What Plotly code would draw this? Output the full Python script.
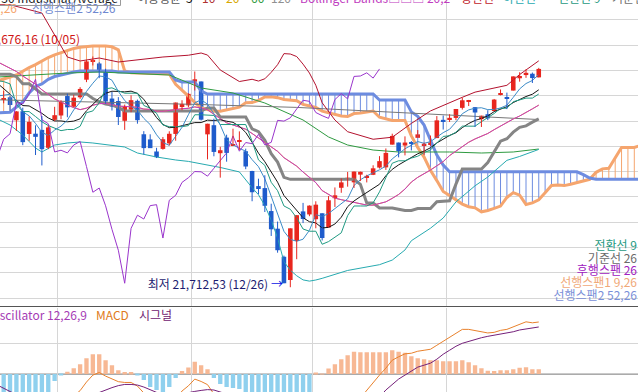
import plotly.graph_objects as go

W, H = 638, 392
FONT = "Noto Sans CJK KR, Noto Sans, sans-serif"

# ---------------- data (Dow Jones 30 Industrial Average, daily) ----------------
dates = ["10/18","10/19","10/22","10/23","10/24","10/25","10/26","10/29","10/30","10/31",
         "11/01","11/02","11/05","11/06","11/07","11/08","11/09","11/12","11/13","11/14","11/15",
         "11/16","11/19","11/20","11/21","11/23","11/26","11/27","11/28","11/29","11/30",
         "12/03","12/04","12/06","12/07","12/10","12/11","12/12","12/13","12/14","12/17","12/18",
         "12/19","12/20","12/21","12/24","12/26","12/27","12/28","12/31",
         "01/02","01/03","01/04","01/07","01/08","01/09","01/10","01/11","01/14","01/15","01/16",
         "01/17","01/18","01/22","01/23","01/24","01/25","01/28","01/29","01/30","01/31",
         "02/01","02/04","02/05","02/06","02/07","02/08","02/11","02/12","02/13","02/14","02/15",
         "02/19","02/20","02/21","02/22"]

opens = [25651,25418,25470,25015,25195,24745,24750,24825,24471,25024,
         25110,25495,25283,25470,25818,26177,26139,25977,25445,25396,25005,
         25226,25400,24739,24637,24398,24449,24558,24745,25278,25310,
         25779,25783,24737,24918,24364,24673,24515,24590,24403,24012,23713,
         23674,23220,22871,22318,21857,22629,23213,23153,
         23058,23176,22894,23474,23680,23844,23788,23940,23891,23937,24080,
         24084,24534,24575,24516,24556,24668,24526,24546,24663,25006,
         25025,25062,25261,25377,25275,25037,25135,25198,25519,25452,25603,
         25846,25910,25936,25864]
highs = [25700,25599,25497,25196,25265,25093,24916,25100,24907,25282,
         25411,25543,25520,25670,26207,26277,26165,26035,25575,25473,25326,
         25510,25425,24800,24738,24471,24685,24798,25366,25412,25550,
         25980,25783,24947,25047,24491,24730,24849,24796,24454,24016,23860,
         23928,23365,23012,22339,22878,23138,23381,23333,
         23413,23176,23518,23687,23864,23994,24002,24000,23938,24125,24306,
         24458,24750,24575,24697,24604,24822,24573,24714,25099,25109,
         25135,25239,25465,25418,25275,25106,25214,25437,25625,25562,25883,
         25965,26024,25959,26052]
lows = [25249,25351,25205,24804,24523,24607,24328,24122,24444,24999,
        25036,25075,25279,25440,25770,26100,25848,25344,25209,24922,24825,
        25175,24948,24341,24467,24268,24434,24519,24611,25214,25273,
        25605,25011,24242,24303,23881,24196,24513,24429,24048,23414,23552,
        23201,22727,22396,21792,21713,22267,22982,23118,
        22879,22638,22894,23301,23581,23702,23677,23813,23786,23931,24061,
        24033,24534,24282,24321,24419,24668,24332,24510,24663,24832,
        24981,25017,25227,25297,24884,24883,25018,25198,25508,25236,25603,
        25779,25855,25753,25864]
closes = [25379,25444,25317,25191,24583,24984,24688,24443,24874,25116,
          25380,25271,25462,25635,26180,26191,25989,25387,25286,25080,25289,
          25413,25017,24465,24464,24285,24640,24748,25366,25339,25538,
          25826,25027,24947,24389,24423,24370,24527,24597,24101,23592,23675,
          23324,22859,22445,21792,22878,23138,23062,23327,
          23346,22686,23433,23531,23787,23879,24001,23996,23910,24065,24207,
          24370,24706,24404,24575,24553,24737,24528,24579,25014,24999,
          25064,25239,25411,25390,25169,25106,25053,25425,25543,25439,25883,
          25891,25954,25850,26031]

# moving averages
ma5 = [25495,25515,25529,25407,25183,25104,24953,24778,24714,24821,24900,25017,25221,25373,25586,
       25748,25891,25876,25807,25587,25406,25291,25217,25053,24930,24729,24574,24520,24701,24876,
       25126,25363,25419,25335,25145,24922,24631,24531,24461,24404,24237,24098,23858,23510,23179,
       22819,22660,22622,22663,22839,23150,23112,23171,23265,23357,23463,23726,23839,23915,23970,
       24036,24110,24252,24350,24452,24522,24595,24559,24594,24682,24771,24837,24979,25145,25221,
       25255,25263,25226,25229,25259,25313,25469,25636,25742,25803,25922]
ma10 = [25749,25649,25532,25408,25306,25299,25234,25153,25061,25002,25002,24985,24999,25044,25203,
        25324,25454,25549,25590,25586,25577,25591,25547,25430,25258,25068,24933,24869,24877,24903,
        24928,24969,24970,25018,25011,25024,24997,24975,24898,24775,24580,24365,24195,23986,23791,
        23528,23379,23240,23087,23009,22985,22886,22897,22964,23098,23307,23419,23505,23590,23663,
        23750,23918,24045,24133,24211,24279,24352,24406,24472,24567,24647,24716,24769,24870,24951,
        25013,25050,25102,25187,25240,25284,25366,25431,25485,25531,25618]
ma20 = [26173,26108,26045,25980,25890,25817,25729,25618,25523,25438,25375,25317,25265,25226,25255,
        25312,25344,25351,25325,25294,25290,25288,25273,25237,25231,25196,25193,25209,25233,25244,
        25252,25280,25258,25224,25134,25046,24965,24922,24888,24839,24754,24667,24582,24502,24401,
        24276,24188,24108,23992,23892,23782,23625,23546,23475,23445,23417,23399,23372,23338,23336,
        23367,23402,23471,23548,23655,23793,23886,23955,24031,24115,24198,24317,24407,24501,24581,
        24646,24701,24754,24830,24904,24965,25041,25100,25178,25241,25315]
ma60_idx = [0,5,11,16,21,27,32,37,42,48,52,55,59,63,71,76,81,85]
ma60 = [25871,25911,25950,25970,25950,25911,25654,25555,25357,25021,24685,24526,24427,24388,24388,24368,24388,24447]
ma120_idx = [0,16,31,47,60,72,85]
ma120 = [25420,25380,25330,25270,25190,25110,25030]

# Bollinger bands 20,2 (upper / lower; centre = ma20)
bb_up_idx = [0,2,4,7,9,11,13,16,19,22,26,30,32,33,34,35,38,40,41,42,43,44,45,46,47,48,49,50,51,53,
             55,59,62,65,68,70,73,75,78,80,82,85]
bb_up = [27300,27300,27236,27137,26702,26267,26188,26247,26168,26208,26267,26302,26346,26306,26168,
         26010,25782,25826,25791,25836,25964,26115,26334,26326,26276,26126,25950,25708,25361,25021,
         24789,24640,24680,24953,25200,25314,25470,25572,25650,25707,25920,26191]
bb_lo_idx = [0,2,4,6,7,9,11,13,15,18,20,22,25,28,30,35,38,40,41,42,43,44,45,46,47,48,49,50,51,55,
             60,62,64,65,68,70,72,75,77,80,82,85]
bb_lo = [25044,24922,24724,24467,24388,24526,24566,24586,24566,24526,24487,24368,24289,24230,24202,
         24082,23994,23682,23543,23328,23040,22687,22218,22050,21940,21858,21834,21856,21889,22045,
         22159,22250,22450,22633,22880,23082,23400,23720,23893,24223,24300,24439]

# Ichimoku
tenkan = [25800,25780,25735,25327,25187,25187,25089,24986,24911,24861,24810,24833,24833,24896,25165,
          25200,25361,25638,25657,25600,25551,25551,25551,25309,25253,25152,24922,24889,24889,24889,
          24909,25124,25124,25111,25111,24931,24931,24931,24931,24931,24599,24231,24124,23788,23623,
          23321,23255,23084,22865,22821,22821,22563,22616,22700,22789,23131,23320,23320,23320,23382,
          23600,23880,24166,24214,24214,24268,24304,24377,24428,24566,24696,24709,24780,24899,24899,
          24899,24988,25064,25149,25254,25254,25383,25424,25454,25454,25535]
kijun = ([25925,25925,25925,25878,25737,25737,25640] + [25537]*8 +
         [25447,25382,25337,25317,25269] + [25200]*13 + [25260]*2 + [25079]*5 +
         [24846,24790,24618,24354,24188,23886] + [23847]*11 +
         [23748,23380,23380,23281,23281,23281,23255,23232,23232,23268,23268,23268,23406,23411,23424,
          23753,24052,24052,24052,24052,24180,24383,24603,24651,24780,24876,24905,24978,25043])
span1 = [25792,25832,25865,25911,25984,26059,26115,26190,26257,26310,26352,26396,26437,26459,26475,
         26485,26485,26485,26469,26409,25990,25955,25950,25945,25945,25940,25935,25931,25727,25615,
         25492,25368,25265,25226,25193,25194,25222,25242,25275,25361,25366,25408,25476,25482,25463,
         25428,25418,25402,25330,25305,25268,25196,25165,25132,25101,25090,25149,25161,25186,25198,
         25076,25040,25013,25013,25013,24707,24479,24287,24024,23822,23606,23528,23448,23358,23305,
         23284,23205,23232,23274,23318,23489,23584,23534,23350,23381,23441,23581,23724,23735,23723,
         23750,23786,23823,23848,23986,24054,24067,24267,24476,24476,24476,24520]
span2 = ([25159,25167,25175,25278,25377,25555,25684,25733,25826,25881,25911,25950,25970] +
         [25990]*6 + [25970]*9 + [25812,25773,25773,25773,25594] + [25535]*27 + [25416]*5 +
         [25182,25092,24921,24639,24329,24131] + [23995]*21 + [23939,23874] + [23847]*8)
lag_shift = 25   # 후행스팬 26 : closes drawn 25 sessions back

# MACD oscillator 12,26,9
osc_hist = [-150,-150,-140,-140,-160,-140,-130,-130,-100,-35,-5,12,30,50,80,100,100,70,45,20,10,10,-5,
            -30,-65,-80,-95,-65,-20,15,33,62,45,25,-20,-50,-65,-70,-75,-95,-125,-140,-160,-190,-210,
            -240,-200,-160,-130,-95,5,3,28,50,75,95,112,110,110,110,110,110,120,112,107,90,80,75,
            70,70,65,65,65,70,60,45,30,17,15,20,20,25,32,35,25,25]
macd = [-205,-220,-225,-240,-280,-280,-285,-295,-270,-203,-165,-135,-110,-83,-40,-5,8,-10,-23,-38,-42,
        -42,-60,-95,-145,-172,-195,-170,-125,-85,-59,-25,-37,-53,-100,-138,-165,-182,-200,-235,-285,
        -322,-368,-428,-480,-545,-535,-505,-480,-455,-425,-400,-347,-310,-260,-210,-158,-120,-80,-40,
        -5,30,70,87,102,105,115,120,125,145,165,185,205,225,225,220,213,207,210,220,225,238,254,263,
        258,262]
signal = [-55,-70,-85,-100,-120,-140,-155,-165,-170,-168,-160,-147,-140,-133,-120,-105,-92,-80,-68,-58,
          -52,-52,-55,-65,-80,-92,-100,-105,-105,-100,-92,-87,-82,-78,-80,-88,-100,-112,-125,-140,-160,
          -182,-208,-238,-270,-305,-335,-355,-370,-380,-385,-385,-375,-360,-335,-305,-270,-230,-190,-150,
          -115,-80,-50,-25,-5,15,35,45,55,75,100,120,140,155,165,175,183,190,195,200,205,213,222,228,
          233,237]

price_grid = [21500,22000,22500,23000,23500,24000,24500,25000,25500,26000,26500,27000]
osc_grid = [155]
high_label = "최고 26,676,16 (10/05)"
low_label = "최저 21,712,53 (12/26)"

# ---------------- colours ----------------
RED, BLUE = "#e8261e", "#1f5ccc"
C_SPAN1, C_SPAN2 = "#f5a56e", "#6d8ce0"
C_KIJUN, C_TENKAN, C_LAG = "#858585", "#1f9a82", "#9a35cc"
C_BBU, C_BBM, C_BBL = "#b3122e", "#c43cc4", "#27aab0"
C_MA5, C_MA10, C_MA20, C_MA60, C_MA120 = "#3c8cc8", "#151515", "#f0a030", "#2e9a40", "#777777"

# ---------------- geometry of the picture ----------------
X0, DX = -2.7, 6.37          # pixel of slot 0, pixels per session
def slot(px):
    return (px - X0) / DX
P_REF, Y_REF, PPX = 21500, 298, 19.78
def price_at(py):
    return P_REF + (Y_REF - py) * PPX

n = len(closes)
idx = list(range(n))
fig = go.Figure()

# cloud hatching
hx_up, hy_up, hx_dn, hy_dn = [], [], [], []
for i, (a, b) in enumerate(zip(span1, span2)):
    if a >= b:
        hx_up += [i, i, None]; hy_up += [a, b, None]
    else:
        hx_dn += [i, i, None]; hy_dn += [a, b, None]
fig.add_trace(go.Scatter(x=hx_up, y=hy_up, mode="lines", line=dict(color=C_SPAN1, width=1)))
fig.add_trace(go.Scatter(x=hx_dn, y=hy_dn, mode="lines", line=dict(color=C_SPAN2, width=1)))

def line(x, y, color, width=1, xa="x", ya="y"):
    fig.add_trace(go.Scatter(x=x, y=y, mode="lines", line=dict(color=color, width=width),
                             xaxis=xa, yaxis=ya))

line(list(range(len(span1))), span1, C_SPAN1, 3)
line(list(range(len(span2))), span2, C_SPAN2, 3)
line(ma60_idx, ma60, C_MA60)
line(ma120_idx, ma120, C_MA120)
line(idx, kijun, C_KIJUN, 3)
line(bb_up_idx, bb_up, C_BBU)
line(bb_lo_idx, bb_lo, C_BBL)
line(idx, ma20, C_MA20)
line(idx, ma20, C_BBM)
line(idx, ma10, C_MA10)
line(idx, tenkan, C_TENKAN)
line(idx, ma5, C_MA5)
line([i - lag_shift for i in idx[lag_shift:]], closes[lag_shift:], C_LAG)

# candles
for col, cond in ((RED, lambda o, c: c >= o), (BLUE, lambda o, c: c < o)):
    wx, wy = [], []
    for i in idx:
        if cond(opens[i], closes[i]):
            wx += [i, i, None]; wy += [lows[i], highs[i], None]
    line(wx, wy, col, 1)
fig.add_trace(go.Bar(
    x=idx, y=[max(abs(c - o), 25) for o, c in zip(opens, closes)],
    base=[min(o, c) for o, c in zip(opens, closes)], width=0.72,
    marker=dict(color=[RED if c >= o else BLUE for o, c in zip(opens, closes)], line=dict(width=0)),
    xaxis="x", yaxis="y"))

# oscillator panel
fig.add_trace(go.Bar(x=idx, y=osc_hist, width=0.68,
                     marker=dict(color=["#f7b894" if v >= 0 else "#8fd0ee" for v in osc_hist], line=dict(width=0)),
                     xaxis="x2", yaxis="y2"))
line(idx, macd, "#e8812c", 1, "x2", "y2")
line(idx, signal, "#74207a", 1, "x2", "y2")

# ---------------- texts: drawn on a pixel-space overlay so they anchor exactly ----------------
def text(s, px, py, color, anchor="left", size=12):
    pos = "middle right" if anchor == "left" else "middle left"
    fig.add_trace(go.Scatter(x=[px], y=[py], mode="text", text=[s], textposition=pos,
                             textfont=dict(family=FONT, size=size, color=color),
                             cliponaxis=False, xaxis="x3", yaxis="y3"))

# top legend rows (cut by the top edge)
text("Dow Jones 30 Industrial Average", 118, 0, "#222222", "right")
text("이동평균", 137, 0, "#555555")
text("5", 186, 0, "#111111")
text("10", 202, 0, "#b03030")
text("20", 226, 0, "#d8a800")
text("60", 251, 0, "#2e9a40")
text("120", 271, 0, "#909090")
text("Bollinger Bands□□□ 20,2", 300, 0, "#c03cc0")
text("상한선", 461, 0, "#c01a2a")
text("하한선", 503, 0, "#27aab0")
text("전환선 9", 558, 0, C_TENKAN)
text("기준선 26", 612, 0, "#707070")
text("선행스팬1 9,26", 17, 10, C_SPAN1, "right")
text("선행스팬2 52,26", 32, 10, "#6f88d0")

text(high_label, 80, 41, "#d01515", "right")
text(low_label, 268, 286, "#1c1c70", "right")
text("→", 271, 286, "#0a14e6")

for s, py, col in (("전환선 9", 247, C_TENKAN), ("기준선 26", 259.5, "#6a6a6a"),
                   ("후행스팬 26", 272, "#a020c0"), ("선행스팬1 9,26", 284, "#f0a878"),
                   ("선행스팬2 52,26", 296.5, "#7a90d8")):
    text(s, 637, py, col, "right")

text("MACD Oscillator 12,26,9", 87, 317, "#a53cb5", "right")
text("MACD", 96, 317, "#e07a20")
text("시그널", 139, 317, "#702070")

# month grid lines
month_bounds = [i - 0.5 for i in range(1, n) if dates[i][:2] != dates[i - 1][:2]]

main_bottom = 306.5
dom_main = [1 - main_bottom / H, 1]
dom_osc = [0, 1 - 307.5 / H]
xr = [slot(0), slot(W)]
axis_common = dict(showticklabels=False, ticks="", zeroline=False, showline=False,
                   gridcolor="#d6d6d6", gridwidth=1)
fig.update_layout(
    width=W, height=H, margin=dict(l=0, r=0, t=0, b=0),
    paper_bgcolor="white", plot_bgcolor="rgba(0,0,0,0)", showlegend=False,
    barmode="overlay", hovermode=False,
    xaxis=dict(domain=[0, 1], range=xr, tickvals=month_bounds, anchor="y", **axis_common),
    xaxis2=dict(domain=[0, 1], range=xr, tickvals=month_bounds, anchor="y2", matches="x", **axis_common),
    yaxis=dict(domain=dom_main, range=[price_at(main_bottom), price_at(0)], tickvals=price_grid, **axis_common),
    yaxis2=dict(domain=dom_osc, range=[-90, 335], tickvals=osc_grid, **axis_common),
    xaxis3=dict(domain=[0, 1], range=[0, W], visible=False, anchor="y3"),
    yaxis3=dict(domain=[0, 1], range=[H, 0], visible=False, anchor="x3"),
)
fig.add_shape(type="line", xref="paper", yref="paper", x0=0, x1=1,
              y0=1 - main_bottom / H, y1=1 - main_bottom / H, line=dict(color="#555555", width=1))
fig.add_shape(type="line", xref="paper", yref="y2", x0=0, x1=1, y0=0, y1=0,
              line=dict(color="#777777", width=1), layer="below")
# frame of the index-name box in the top legend row
fig.add_shape(type="rect", xref="x3", yref="y3", x0=-6, x1=120.5, y0=-14, y1=5.5,
              line=dict(color="#9a9a9a", width=1), fillcolor="rgba(0,0,0,0)")

fig.write_html("out.html", config={"displayModeBar": False},
               post_script="document.body.style.margin='0px';document.body.style.overflow='hidden';")
